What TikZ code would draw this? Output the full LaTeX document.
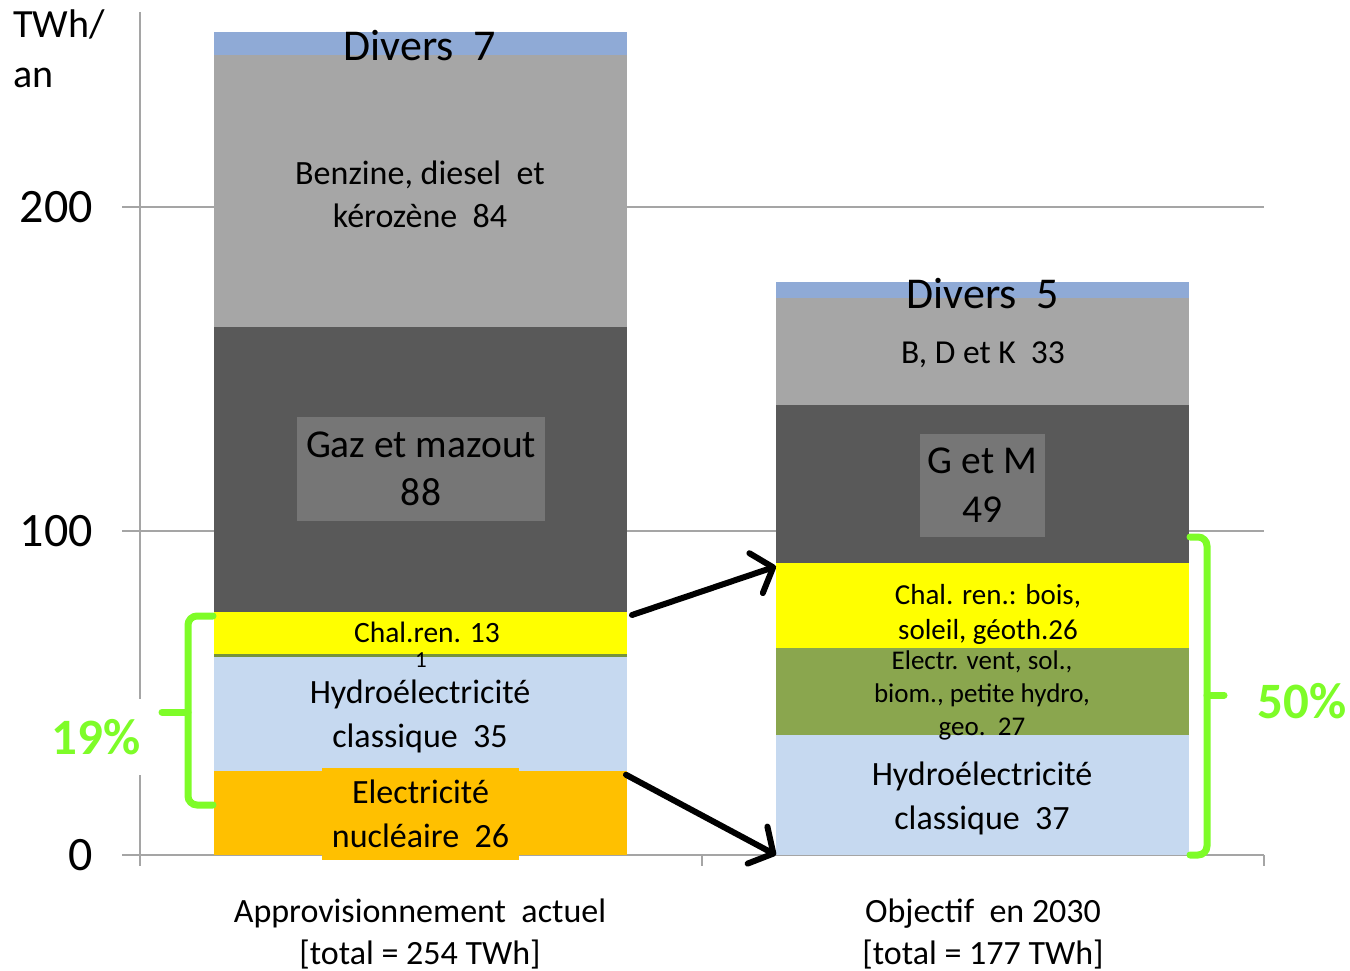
\documentclass[tikz,border=0pt]{standalone}
\usepackage{fontspec}
\setmainfont{Carlito}
\usetikzlibrary{arrows.meta}
\definecolor{axgray}{RGB}{165,165,165}
\definecolor{cdiv}{RGB}{143,170,214}
\definecolor{cben}{RGB}{166,166,166}
\definecolor{cgaz}{RGB}{89,89,89}
\definecolor{cgazbox}{RGB}{118,118,118}
\definecolor{cyel}{RGB}{255,255,0}
\definecolor{chyd}{RGB}{198,217,240}
\definecolor{cnuc}{RGB}{255,192,0}
\definecolor{cele}{RGB}{138,166,78}
\definecolor{celeline}{RGB}{119,147,60}
\definecolor{cgreen}{RGB}{126,252,40}
\begin{document}
\begin{tikzpicture}[x=1pt,y=-1pt,
  seg/.style={inner sep=0pt, outer sep=0pt, minimum width=413pt, draw=none},
  lbl/.style={inner sep=0pt, align=center, text=black},
  gridline/.style={draw=axgray, line width=1.8pt},
  brace/.style={draw=cgreen, line width=7pt, rounded corners=9pt, line cap=round},
  arr/.style={draw=black, line width=6pt, line cap=round, line join=round,
    -{Straight Barb[length=18pt, width=42pt, line width=6pt, round]}},
  pct/.style={text=cgreen, font={\fontsize{51}{56}\selectfont\bfseries}},
  ticklbl/.style={anchor=east, inner sep=0pt, font={\fontsize{48}{54}\selectfont}}]
\useasboundingbox (0,0) rectangle (1350,971);
% grid and axes
\draw[gridline] (122,207) -- (1264,207);
\draw[gridline] (122,531) -- (1264,531);
\draw[gridline] (122,855) -- (1264,855);
\draw[gridline] (140,12) -- (140,866);
\draw[gridline] (702,855) -- (702,866);
\draw[gridline] (1264,855) -- (1264,866);
% tick labels
\node[ticklbl] (t200) at (93,207) {200};
\node[ticklbl] (t100) at (93,531) {100};
\node[ticklbl] (t0) at (93,855) {0};
\node[inner sep=0pt, anchor=north west, align=left, font={\fontsize{40}{50}\selectfont}] (unit) at (13,10) {TWh/\\an};
% bar 1
\node[seg, fill=cnuc, minimum height=84.24pt] (nuc1) at (420.5,812.88) {};
\node[seg, fill=chyd, minimum height=113.4pt] (hyd1) at (420.5,714.06) {};
\node[seg, fill=celeline, minimum height=3.24pt] (ele1) at (420.5,655.74) {};
\node[seg, fill=cyel, minimum height=42.12pt] (cha1) at (420.5,633.06) {};
\node[seg, fill=cgaz, minimum height=285.12pt] (gaz1) at (420.5,469.44) {};
\node[seg, fill=cben, minimum height=272.16pt] (ben1) at (420.5,190.8) {};
\node[seg, fill=cdiv, minimum height=22.68pt] (div1) at (420.5,43.38) {};
% bar 2
\node[seg, fill=chyd, minimum height=119.88pt] (hyd2) at (982.5,795.06) {};
\node[seg, fill=cele, minimum height=87.48pt] (ele2) at (982.5,691.38) {};
\node[seg, fill=cyel, minimum height=84.24pt] (cha2) at (982.5,605.52) {};
\node[seg, fill=cgaz, minimum height=158.76pt] (gaz2) at (982.5,484.02) {};
\node[seg, fill=cben, minimum height=106.92pt] (ben2) at (982.5,351.18) {};
\node[seg, fill=cdiv, minimum height=16.2pt] (div2) at (982.5,289.62) {};
% labels bar 1
\node[lbl, font={\fontsize{44}{48}\selectfont}] (ldiv1) at (420,46) {Divers\ \ 7};
\node[lbl, font={\fontsize{34}{43}\selectfont}] (lben1) at (420,194) {Benzine, diesel\ \ et\\kérozène\ \ 84};
\node[lbl, fill=cgazbox, minimum width=248pt, minimum height=104pt, font={\fontsize{39.5}{48}\selectfont}] (lgaz1) at (421,469) {Gaz et mazout\\88};
\node[lbl, font={\fontsize{29.5}{32}\selectfont}] (lcha1) at (427,632) {Chal.ren. 13};
\node[lbl, font={\fontsize{23}{24}\selectfont}] (lele1) at (421,660) {1};
\node[lbl, font={\fontsize{34}{44}\selectfont}] (lhyd1) at (420,716) {Hydroélectricité\\classique\ \ 35};
\node[lbl, fill=cnuc, minimum width=197pt, minimum height=92pt, font={\fontsize{34}{44}\selectfont}] (lnuc1) at (420.5,814) {Electricité\\nucléaire\ \ 26};
% labels bar 2
\node[lbl, font={\fontsize{44}{48}\selectfont}] (ldiv2) at (983,294) {Divers\ \ 5};
\node[lbl, font={\fontsize{33.5}{36}\selectfont}] (lben2) at (983,355) {B, D et K\ \ 33};
\node[lbl, fill=cgazbox, minimum width=125pt, minimum height=103pt, font={\fontsize{39.5}{49}\selectfont}] (lgaz2) at (982.5,485.5) {G et M\\49};
\node[lbl, font={\fontsize{29}{35}\selectfont}] (lcha2) at (988,614) {Chal. ren.: bois,\\soleil, géoth.26};
\node[lbl, font={\fontsize{27}{33}\selectfont}] (lele2) at (982,695) {Electr. vent, sol.,\\biom., petite hydro,\\geo.\ \ 27};
\node[lbl, font={\fontsize{34}{44}\selectfont}] (lhyd2) at (982,798) {Hydroélectricité\\classique\ \ 37};
% category labels
\node[lbl, font={\fontsize{34}{42}\selectfont}] (cat1) at (420,934) {Approvisionnement\ \ actuel\\{[total = 254 TWh]}};
\node[lbl, font={\fontsize{34}{42}\selectfont}] (cat2) at (983,934) {Objectif\ \ en 2030\\{[total = 177 TWh]}};
% arrows
\draw[arr] ([xshift=5pt,yshift=-3pt]cha1.north east) -- ([yshift=-3pt]cha2.north west);
\draw[arr] ([xshift=-1pt,yshift=-4pt]nuc1.north east) -- (hyd2.south west);
% braces
\coordinate (b1top) at (213,616);
\coordinate (b1bot) at (213,805);
\coordinate (b1mid) at (188,712);
\coordinate (b1tip) at (162,712);
\draw[brace] (b1top) -- (188,616) -- (188,805) -- (b1bot);
\draw[draw=cgreen, line width=7pt, line cap=round] (b1mid) -- (b1tip);
\coordinate (b2top) at (1190,537);
\coordinate (b2bot) at (1190,855);
\coordinate (b2mid) at (1207,695);
\coordinate (b2tip) at (1224,695);
\draw[brace] (b2top) -- (1207,537) -- (1207,855) -- (b2bot);
\draw[draw=cgreen, line width=7pt, line cap=round] (b2mid) -- (b2tip);
% percentages
\node[pct, fill=white, inner sep=3pt, minimum height=76pt] (p19) at (96,737) {19\%};
\node[pct] (p50) at (1302,701) {50\%};
\end{tikzpicture}
\end{document}
